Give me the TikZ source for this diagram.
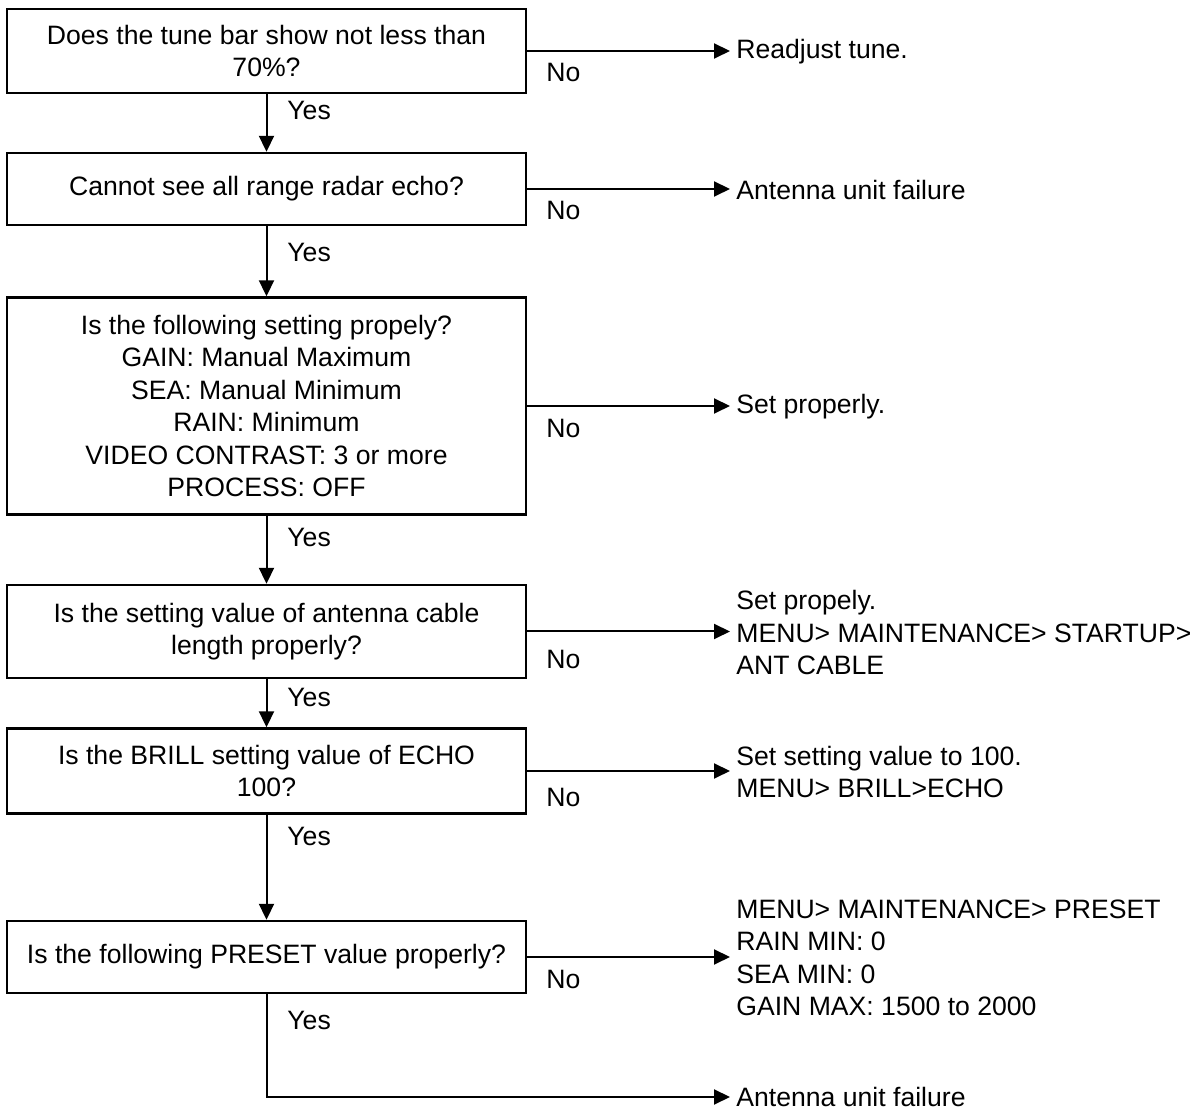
\documentclass[tikz,border=0pt]{standalone}
\usepackage{fontspec}
\setmainfont{Liberation Sans}
\usetikzlibrary{arrows.meta}

\begin{document}
\begin{tikzpicture}[x=0.5pt, y=-0.5pt,
  font=\fontsize{13.3}{16.25}\selectfont,
  box/.style={draw, line width=1.2pt, minimum width=259.5pt, align=center, inner sep=2pt},
  result/.style={anchor=west, align=left, inner sep=3pt},
  lbl/.style={anchor=west, inner sep=0pt},
  arr/.style={-{Triangle[length=8pt, width=7.5pt]}, line width=1pt}
]
\useasboundingbox (0,0) rectangle (1196,1111);

% questions
\node[box, minimum height=42pt]   (q1) at (266.5,51)    {Does the tune bar show not less than\\70\%?};
\node[box, minimum height=36pt]   (q2) at (266.5,189)   {Cannot see all range radar echo?};
\node[box, minimum height=108.5pt] (q3) at (266.5,406)  {Is the following setting propely?\\GAIN: Manual Maximum\\SEA: Manual Minimum\\RAIN: Minimum\\VIDEO CONTRAST: 3 or more\\PROCESS: OFF};
\node[box, minimum height=46.5pt] (q4) at (266.5,631.5) {Is the setting value of antenna cable\\length properly?};
\node[box, minimum height=42.5pt] (q5) at (266.5,771)   {Is the BRILL setting value of ECHO\\100?};
\node[box, minimum height=36pt]   (q6) at (266.5,957)   {Is the following PRESET value properly?};

% results
\node[result] (r1) at (730,52)    {Readjust tune.};
\node[result] (r2) at (730,190)   {Antenna unit failure};
\node[result] (r3) at (730,407)   {Set properly.};
\node[result] (r4) at (730,632.5) {Set propely.\\MENU> MAINTENANCE> STARTUP>\\ANT CABLE};
\node[result] (r5) at (730,772)   {Set setting value to 100.\\MENU> BRILL>ECHO};
\node[result] (r6) at (730,958)   {MENU> MAINTENANCE> PRESET\\RAIN MIN: 0\\SEA MIN: 0\\GAIN MAX: 1500 to 2000};
\node[result] (r7) at (730,1097)  {Antenna unit failure};

% labels
\node[lbl] (y1) at (287,110)  {Yes};
\node[lbl] (y2) at (287,252)  {Yes};
\node[lbl] (y3) at (287,537)  {Yes};
\node[lbl] (y4) at (287,697)  {Yes};
\node[lbl] (y5) at (287,836)  {Yes};
\node[lbl] (y6) at (287,1020) {Yes};

\node[lbl] (n1) at (546,72)   {No};
\node[lbl] (n2) at (546,210)  {No};
\node[lbl] (n3) at (546,428)  {No};
\node[lbl] (n4) at (546,659)  {No};
\node[lbl] (n5) at (546,797)  {No};
\node[lbl] (n6) at (546,979)  {No};

% edges
\draw[arr] (q1) -- (q2);
\draw[arr] (q2) -- (q3);
\draw[arr] (q3) -- (q4);
\draw[arr] (q4) -- (q5);
\draw[arr] (q5) -- (q6);
\draw[arr] (q6.south) |- (r7.west);

\draw[arr] (q1) -- (q1 -| r1.west);
\draw[arr] (q2) -- (q2 -| r2.west);
\draw[arr] (q3) -- (q3 -| r3.west);
\draw[arr] (q4) -- (q4 -| r4.west);
\draw[arr] (q5) -- (q5 -| r5.west);
\draw[arr] (q6) -- (q6 -| r6.west);

\end{tikzpicture}
\end{document}
